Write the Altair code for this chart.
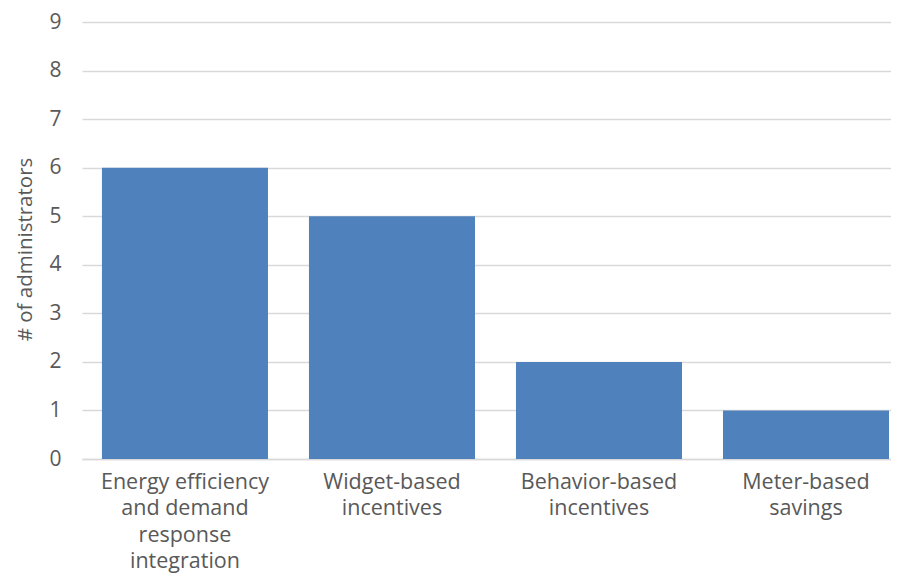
import altair as alt
import pandas as pd

categories = [
    "Energy efficiency|and demand|response|integration",
    "Widget-based|incentives",
    "Behavior-based|incentives",
    "Meter-based|savings",
]
values = [6, 5, 2, 1]

df = pd.DataFrame({"category": categories, "value": values})

FONT = "Open Sans"
GREY = "#595959"

chart = alt.Chart(df).mark_bar(color="#4F81BD").encode(
    x=alt.X(
        "category:N",
        sort=None,
        title=None,
        scale=alt.Scale(paddingInner=0.198, paddingOuter=0.053, align=0.909),
        axis=alt.Axis(
            labelExpr="split(datum.label, '|')",
            labelAngle=0,
            labelFont=FONT,
            labelFontSize=21.5,
            labelColor=GREY,
            labelLineHeight=26.5,
            labelPadding=12,
            labelBaseline="top",
            ticks=False,
            domainColor="#d9d9d9",
            domainWidth=1.3,
            grid=False,
        ),
    ),
    y=alt.Y(
        "value:Q",
        title="# of administrators",
        scale=alt.Scale(domain=[0, 9], nice=False),
        axis=alt.Axis(
            values=list(range(0, 10)),
            labelFont=FONT,
            labelFontSize=21,
            labelColor=GREY,
            labelPadding=21,
            ticks=False,
            domain=False,
            gridColor="#d9d9d9",
            gridWidth=1.3,
            titleFont=FONT,
            titleFontSize=20.5,
            titleFontWeight="normal",
            titleColor=GREY,
            titlePadding=13,
            titleY=227,
        ),
    ),
).properties(
    width=809,
    height=437,
    autosize=alt.AutoSizeParams(type="none"),
    padding={"left": 74, "top": 14, "right": 0, "bottom": 115},
).configure_view(stroke=None)

chart.save("out.html", embed_options={"renderer": "svg", "actions": False})
